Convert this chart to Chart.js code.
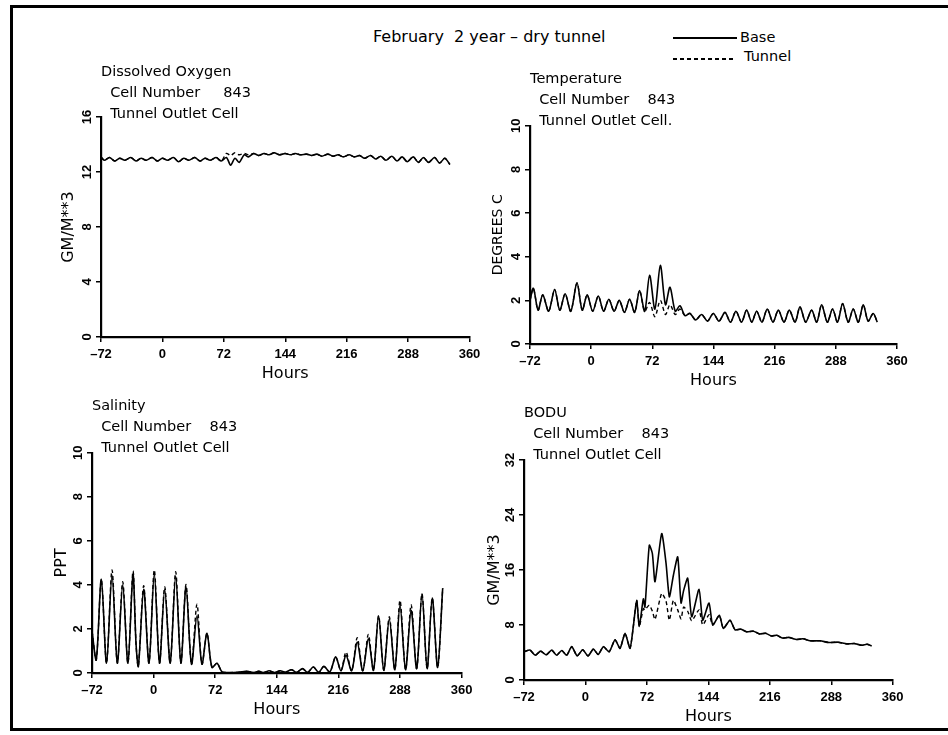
<!DOCTYPE html>
<html lang="en">
<head>
  <meta charset="UTF-8">
  <title>February 2 year - dry tunnel</title>
  <script src="https://cdn.jsdelivr.net/npm/chart.js"></script>
  <style>
    body { margin: 0; background: #fff; font-family: "DejaVu Sans", sans-serif; color: #000; }
    #page { position: relative; width: 948px; height: 735px; overflow: hidden; }
    #frame { position: absolute; left: 10px; top: 5px; width: 960px; height: 720px;
      border-left: 3px solid #000; border-top: 3px solid #000; border-bottom: 3px solid #000; }
    .txt { position: absolute; white-space: pre; line-height: 1; }
    .key { position: absolute; height: 2px; background: #000; }
    .key.dash { background: repeating-linear-gradient(to right, #000 0 4px, transparent 4px 7px); }
    canvas { position: absolute; }
  </style>
</head>
<body>
<div id="page">
  <div id="frame"></div>
  <div class="txt" style="left:373px;top:29px;font-size:16px">February  2 year – dry tunnel</div>
  <div class="key" style="left:673px;top:37px;width:64px"></div>
  <div class="txt" style="left:740px;top:30px;font-size:14.5px">Base</div>
  <div class="key dash" style="left:673px;top:58px;width:63px"></div>
  <div class="txt" style="left:744px;top:49px;font-size:14.5px">Tunnel</div>
</div>

<script>
  // hours axis, same for all four panels
  const hourTicks = [-72, 0, 72, 144, 216, 288, 360];

  // Dissolved oxygen (GM/M**3)
  const doHours = [-72,-68,-62,-56,-50,-44,-37,-31,-25,-19,-12,-6,0,6,13,19,25,31,38,44,50,56,63,69,75,80,85,90,96,101,
    107,113,119,125,131,137,144,150,156,162,169,175,181,187,194,200,206,212,219,225,231,237,244,250,256,262,269,275,281,287,
    294,300,306,312,319,325,331,337];
  const doBase = [13.1,12.85,13.05,12.8,13.0,12.85,13.05,12.8,13.0,12.85,13.05,12.8,13.0,12.85,13.05,12.75,13.0,12.85,13.05,12.8,
    13.0,12.85,13.05,12.8,13.05,12.5,13.0,12.7,13.25,13.1,13.35,13.2,13.35,13.25,13.4,13.25,13.35,13.25,13.35,13.25,
    13.3,13.2,13.3,13.15,13.3,13.15,13.25,13.1,13.25,13.1,13.2,13.0,13.2,12.95,13.15,12.85,13.15,12.8,13.1,12.75,
    13.1,12.7,13.05,12.7,13.05,12.65,13.0,12.55];
  const doTunnel = [13.1,12.85,13.05,12.8,13.0,12.85,13.05,12.8,13.0,12.85,13.05,12.8,13.0,12.85,13.05,12.75,13.0,12.85,13.05,12.8,
    13.0,12.85,13.05,12.8,13.35,13.2,13.4,13.25,13.35,13.25,13.35,13.2,13.35,13.25,13.4,13.25,13.35,13.25,13.35,13.25,
    13.3,13.2,13.3,13.15,13.3,13.15,13.25,13.1,13.25,13.1,13.2,13.0,13.2,12.95,13.15,12.85,13.15,12.8,13.1,12.75,
    13.1,12.7,13.05,12.7,13.05,12.65,13.0,12.55];

  // Temperature (degrees C)
  const tempHours = [-72,-68,-62.5,-57,-50,-43,-37,-30.6,-24,-16.7,-10.5,-4.7,1.8,8.4,14.6,20.8,27,33.1,39.2,45.3,
    51.2,57,63,68.8,75,81.4,87.5,92.8,99,104.5,110.5,116.3,123,130,137,143.8,150.5,157.5,164,170.4,
    177,183,189,194.8,201,207.3,214,220.3,227,233.2,240,245.8,252.5,259.5,265.5,271.3,278,284.2,290,296,
    302.5,308.5,314.5,320.3,326,332,336.8];
  const tempBase = [2.0,2.55,1.55,2.25,1.5,2.5,1.55,2.3,1.5,2.8,1.55,2.25,1.5,2.2,1.5,2.05,1.5,2.0,1.45,2.05,
    1.45,2.45,1.5,3.15,1.6,3.6,1.8,2.6,1.5,1.75,1.3,1.4,1.1,1.35,1.05,1.4,1.05,1.45,1.0,1.5,
    1.0,1.55,1.0,1.5,1.0,1.6,1.0,1.55,1.0,1.55,1.0,1.7,1.0,1.55,1.0,1.8,1.0,1.6,1.0,1.85,
    1.0,1.6,1.0,1.8,1.05,1.4,1.0];
  const tempTunnel = [2.0,2.55,1.55,2.25,1.5,2.5,1.55,2.3,1.5,2.8,1.55,2.25,1.5,2.2,1.5,2.05,1.5,2.0,1.45,2.05,
    1.45,2.45,1.5,1.9,1.25,2.0,1.35,1.8,1.35,1.6,1.3,1.4,1.1,1.35,1.05,1.4,1.05,1.45,1.0,1.5,
    1.0,1.55,1.0,1.5,1.0,1.6,1.0,1.55,1.0,1.55,1.0,1.7,1.0,1.55,1.0,1.8,1.0,1.6,1.0,1.85,
    1.0,1.6,1.0,1.8,1.05,1.4,1.0];

  // Salinity (PPT)
  const salHours = [-72,-67,-61.1,-55,-48.6,-42.4,-36.1,-30,-24.1,-20.5,-17.8,-11.6,-5.4,0.8,6.9,13,19.4,25.8,31.9,37.9,
    44.3,50.7,56.5,62.4,68.2,74.1,80,86,98,110,116,123,129,135,141,148,154,161,167.5,174,
    180,186.7,193,199,206,212.8,219,224.9,231.5,238,244.5,251,257,263,269,275.5,282,288,294.5,301,
    307.5,313.7,319.7,325.7,332,337.9];
  const salBase = [1.9,0.6,4.25,0.45,4.45,0.45,4.0,0.45,4.45,1.3,0.3,3.8,0.45,4.5,0.45,3.8,0.45,4.4,0.45,3.9,
    0.4,2.6,0.4,1.8,0.25,0.44,0.05,0.02,0.03,0.08,0.02,0.08,0.02,0.1,0.02,0.1,0.03,0.15,0.03,0.2,
    0.03,0.27,0.03,0.3,0.05,0.73,0.1,0.8,0.1,1.4,0.1,1.55,0.12,2.6,0.12,2.45,0.15,3.1,0.15,2.85,
    0.2,3.6,0.2,3.4,0.25,3.85];
  const salTunnel = [1.9,0.6,4.25,0.45,4.68,0.45,4.15,0.45,4.63,1.3,0.3,3.96,0.45,4.68,0.45,3.92,0.45,4.6,0.45,4.02,
    0.4,3.12,0.4,1.8,0.25,0.44,0.05,0.02,0.03,0.08,0.02,0.08,0.02,0.1,0.02,0.1,0.03,0.15,0.03,0.2,
    0.03,0.27,0.03,0.3,0.05,0.73,0.1,0.95,0.1,1.6,0.1,1.75,0.12,2.6,0.12,2.55,0.15,3.3,0.15,3.1,
    0.2,3.6,0.2,3.4,0.25,3.85];

  // BODU (GM/M**3)
  const bodHours = [-72,-65,-58.8,-52.5,-46,-39.6,-33.7,-27.8,-22,-16.1,-9.7,-3.2,3,9.3,15,21,27.8,34.7,40.5,46.4,
    52.2,56,60,63.1,67.8,69.7,74.8,78.4,81.5,89.3,94.4,98.3,103,108.1,112,115,119.8,124.5,133.1,137.4,
    144.8,149.1,156.9,161.6,169.4,175.3,182,189,196.8,204,211,218,224.1,231,238,247.5,255,263,274.9,285,
    296,306.1,315,324,330,335.4];
  const bodBase = [4.1,4.35,3.6,4.2,3.65,4.35,3.6,4.3,3.6,4.85,3.5,4.4,3.5,4.5,3.7,4.85,4.1,5.85,4.6,6.8,
    4.6,7.7,11.6,7.8,11.8,10.6,19.6,18.4,14.3,21.3,17.0,12.1,15.2,17.9,11.2,13.0,14.8,9.2,13.2,8.7,
    11.2,8.0,9.4,7.5,8.7,7.3,7.4,7.0,7.1,6.7,6.8,6.4,6.5,6.1,6.2,5.9,6.0,5.7,5.7,5.45,
    5.5,5.25,5.3,5.05,5.2,4.95];
  const bodTunnel = [4.1,4.35,3.6,4.2,3.65,4.35,3.6,4.3,3.6,4.85,3.5,4.4,3.5,4.5,3.7,4.85,4.1,5.85,4.6,6.8,
    4.6,7.7,11.6,7.8,10.4,10.2,10.9,10.0,8.8,12.6,11.5,8.7,11.6,10.2,8.9,10.6,10.0,8.6,10.2,8.0,
    9.5,8.0,9.4,7.5,8.7,7.3,7.4,7.0,7.1,6.7,6.8,6.4,6.5,6.1,6.2,5.9,6.0,5.7,5.7,5.45,
    5.5,5.25,5.3,5.05,5.2,4.95];

  const FONT = '"DejaVu Sans", sans-serif';
  const TICK_FONT = { family: '"Liberation Sans Narrow", "Liberation Sans", Arial, sans-serif', size: 13, weight: 'bold' };
  const HEAD_SIZE = 14.5, HEAD_LH = 20.7;
  const X_AXIS_H = 46.3, PAD_R = 16;

  const panels = [
    { head: ['Dissolved Oxygen', '  Cell Number     843', '  Tunnel Outlet Cell'], headY: 72,
      yTitle: 'GM/M**3', yTitleSize: 16, yTitleX: 69, yMax: 16, yStep: 4, tension: 0.3,
      hours: doHours, base: doBase, tunnel: doTunnel,
      plot: { left: 101, right: 469.5, top: 117, bottom: 337 } },
    { head: ['Temperature', '  Cell Number    843', '  Tunnel Outlet Cell.'], headY: 79.3,
      yTitle: 'DEGREES C', yTitleSize: 14, yTitleX: 498, yMax: 10, yStep: 2, tension: 0.3,
      hours: tempHours, base: tempBase, tunnel: tempTunnel,
      plot: { left: 530, right: 897, top: 125.7, bottom: 344 } },
    { head: ['Salinity', '  Cell Number    843', '  Tunnel Outlet Cell'], headY: 406.7,
      yTitle: 'PPT', yTitleSize: 16, yTitleX: 62, yMax: 10, yStep: 2, tension: 0.3,
      hours: salHours, base: salBase, tunnel: salTunnel,
      plot: { left: 92, right: 461.6, top: 452.7, bottom: 673 } },
    { head: ['BODU', '  Cell Number    843', '  Tunnel Outlet Cell'], headY: 413.3,
      yTitle: 'GM/M**3', yTitleSize: 16, yTitleX: 495, yMax: 32, yStep: 8, tension: 0.2,
      hours: bodHours, base: bodBase, tunnel: bodTunnel,
      plot: { left: 524, right: 892.7, top: 460, bottom: 680 } }
  ];

  function pts(xs, ys) {
    return xs.map((x, i) => ({ x: x, y: ys[i] }));
  }

  function addPanel(p) {
    const left = Math.round(p.yTitleX - p.yTitleSize * 0.6);
    const top = Math.round(p.headY - HEAD_LH / 2);
    const width = Math.round(p.plot.right + PAD_R - left);
    const height = Math.round(p.plot.bottom + X_AXIS_H - top);

    const cv = document.createElement('canvas');
    cv.width = width;
    cv.height = height;
    cv.style.left = left + 'px';
    cv.style.top = top + 'px';
    cv.style.width = width + 'px';
    cv.style.height = height + 'px';
    document.getElementById('page').appendChild(cv);

    const yAxisW = p.plot.left - left;
    const xAxisH = top + height - p.plot.bottom;
    const padRight = left + width - p.plot.right;
    const headPadBottom = p.plot.top - top - 3 * HEAD_LH;

    const grid = { drawOnChartArea: false, tickLength: 5, color: '#000', lineWidth: 1.5 };
    const border = { color: '#000', width: 2.2 };

    new Chart(cv, {
      type: 'line',
      data: {
        datasets: [
          { label: 'Base', data: pts(p.hours, p.base), borderColor: '#000', borderWidth: 1.6,
            tension: p.tension, pointRadius: 0 },
          { label: 'Tunnel', data: pts(p.hours, p.tunnel), borderColor: '#000', borderWidth: 1.4,
            borderDash: [4, 3], tension: p.tension, pointRadius: 0 }
        ]
      },
      options: {
        responsive: false,
        animation: false,
        devicePixelRatio: 1,
        layout: { padding: { left: 0, top: 0, right: padRight, bottom: 0 } },
        plugins: {
          legend: { display: false },
          tooltip: { enabled: false },
          title: {
            display: true, text: p.head, align: 'start', fullSize: false, color: '#000',
            font: { family: FONT, size: HEAD_SIZE, weight: 'normal', lineHeight: HEAD_LH / HEAD_SIZE },
            padding: { top: 0, bottom: headPadBottom }
          }
        },
        scales: {
          x: {
            type: 'linear', min: -72, max: 360,
            afterBuildTicks: s => { s.ticks = hourTicks.map(v => ({ value: v })); },
            afterFit: s => { s.height = xAxisH; },
            ticks: { autoSkip: false, maxRotation: 0, padding: 5, color: '#000', font: TICK_FONT,
              callback: v => String(v).replace('-', '\u2013') },
            grid: grid,
            border: border,
            title: { display: true, text: 'Hours', color: '#000', font: { family: FONT, size: 16 }, padding: 0 }
          },
          y: {
            type: 'linear', min: 0, max: p.yMax,
            afterFit: s => { s.width = yAxisW; },
            ticks: { stepSize: p.yStep, minRotation: 90, maxRotation: 90, crossAlign: 'center',
              padding: 1, color: '#000', font: TICK_FONT },
            grid: grid,
            border: border,
            title: { display: true, text: p.yTitle, color: '#000', font: { family: FONT, size: p.yTitleSize }, padding: 0 }
          }
        }
      }
    });
  }

  panels.forEach(addPanel);
</script>
</body>
</html>
